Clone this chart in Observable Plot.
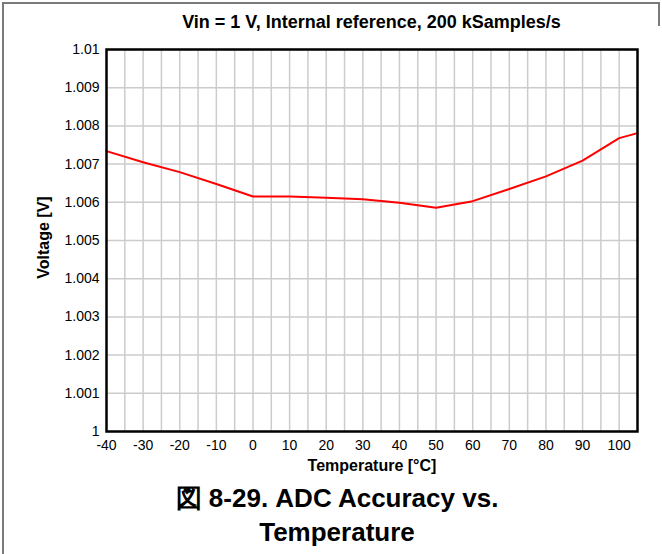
<!DOCTYPE html>
<html>
<head>
<meta charset="utf-8">
<script src="https://cdn.jsdelivr.net/npm/d3@7"></script>
<script src="https://cdn.jsdelivr.net/npm/@observablehq/plot@0.6"></script>
<style>
  html, body { margin: 0; padding: 0; background: #fff; }
  body { width: 662px; height: 554px; position: relative; overflow: hidden; font-family: "Liberation Sans", Arial, sans-serif; }
  #border { position: absolute; left: 2px; top: 2px; width: 656px; height: 560px; border-left: 2px solid #7a7a7a; border-top: 2px solid #7a7a7a; }
  #rborder { position: absolute; left: 658px; top: 2px; width: 2px; height: 24px; background: #7a7a7a; }
  #title { position: absolute; left: 106px; width: 531px; top: 12px; text-align: center; font-weight: bold; font-size: 18px; color: #000; }
  #chart { position: absolute; left: 0; top: 40px; }
  #caption { position: absolute; left: 12px; width: 650px; top: 481px; text-align: center; font-weight: bold; font-size: 26px; line-height: 34px; color: #000; }
</style>
</head>
<body>
<div id="border"></div>
<div id="rborder"></div>
<div id="title">Vin = 1 V, Internal reference, 200 kSamples/s</div>
<div id="chart"></div>
<div id="caption">図 8-29. ADC Accuracy vs.<br>Temperature</div>
<script>
// Data
const temperatures = [-40, -30, -20, -10, 0, 10, 20, 30, 40, 50, 60, 70, 80, 90, 100, 105];
const voltages = [1.00734, 1.00705, 1.00679, 1.00648, 1.00615, 1.00615, 1.00612, 1.00608, 1.00599, 1.00586, 1.00603, 1.00635, 1.00668, 1.00709, 1.00768, 1.00781];

const xTicks = [-40, -30, -20, -10, 0, 10, 20, 30, 40, 50, 60, 70, 80, 90, 100];
const xGrid = [-35, -30, -25, -20, -15, -10, -5, 0, 5, 10, 15, 20, 25, 30, 35, 40, 45, 50, 55, 60, 65, 70, 75, 80, 85, 90, 95, 100];
const yTicks = [1, 1.001, 1.002, 1.003, 1.004, 1.005, 1.006, 1.007, 1.008, 1.009, 1.01];
const yTickLabels = ["1", "1.001", "1.002", "1.003", "1.004", "1.005", "1.006", "1.007", "1.008", "1.009", "1.01"];
const xLabel = "Temperature [°C]";
const yLabel = "Voltage [V]";

const rows = temperatures.map((t, i) => ({t, v: voltages[i]}));

const chart = Plot.plot({
  width: 662,
  height: 440,
  marginLeft: 106,
  marginRight: 25,
  marginTop: 9,
  marginBottom: 49,
  style: {fontFamily: '"Liberation Sans", Arial, sans-serif', fontSize: "14px", color: "#000", background: "transparent"},
  x: {domain: [-40, 105]},
  y: {domain: [1, 1.01]},
  marks: [
    Plot.gridX(xGrid, {stroke: "#cccccc", strokeOpacity: 1, strokeWidth: 1.5}),
    Plot.gridY(yTicks, {stroke: "#cccccc", strokeOpacity: 1, strokeWidth: 1.5}),
    Plot.axisX(xTicks, {tickSize: 0, tickPadding: 9, label: null, fontSize: 14, tickFormat: (d) => String(d)}),
    Plot.axisY(yTicks, {tickSize: 0, tickPadding: 7, label: null, fontSize: 14, tickFormat: (d) => yTickLabels[yTicks.indexOf(d)]}),
    Plot.line(rows, {x: "t", y: "v", stroke: "#ff0000", strokeWidth: 2}),
    Plot.frame({stroke: "#000", strokeWidth: 2.5}),
    Plot.text([xLabel], {frameAnchor: "bottom", dy: 39, fontWeight: "bold", fontSize: 16, text: (d) => d}),
    Plot.text([yLabel], {frameAnchor: "left", textAnchor: "middle", dx: -63, dy: -3, rotate: -90, fontWeight: "bold", fontSize: 16, text: (d) => d})
  ]
});
document.getElementById("chart").appendChild(chart);
</script>
</body>
</html>
